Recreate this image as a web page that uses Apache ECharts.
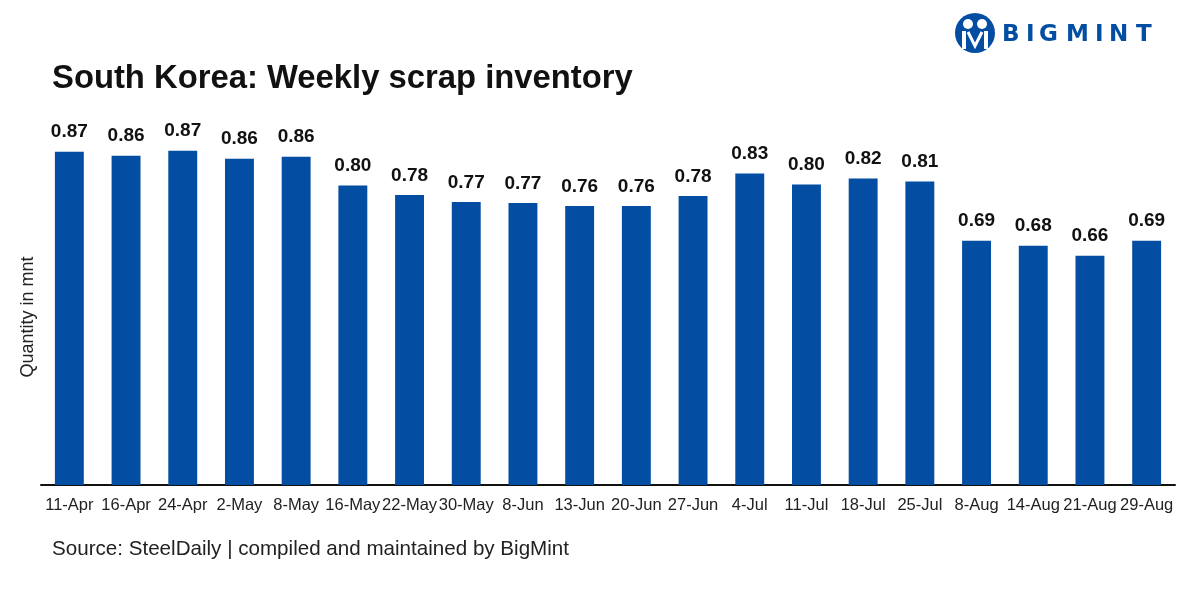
<!DOCTYPE html>
<html><head><meta charset="utf-8">
<script src="https://cdn.jsdelivr.net/npm/echarts@6/dist/echarts.min.js"></script>
<style>html,body{margin:0;padding:0;background:#fff}#c{width:1189px;height:595px}</style>
</head><body><div id="c"></div>
<script>
const categories = ['11-Apr','16-Apr','24-Apr','2-May','8-May','16-May','22-May','30-May','8-Jun','13-Jun','20-Jun','27-Jun','4-Jul','11-Jul','18-Jul','25-Jul','8-Aug','14-Aug','21-Aug','29-Aug'];
const inventory = [0.870,0.862,0.872,0.856,0.860,0.802,0.783,0.769,0.767,0.761,0.761,0.781,0.826,0.804,0.816,0.810,0.691,0.681,0.661,0.691];
const titleText = 'South Korea: Weekly scrap inventory';
const yAxisName = 'Quantity in mnt';
const sourceText = 'Source: SteelDaily | compiled and maintained by BigMint';
const logoLetters = ['B','I','G','M','I','N','T'];

const blue = '#034ea2';
const chart = echarts.init(document.getElementById('c'));
const letterX = [1002, 1026, 1039, 1066, 1095, 1109, 1136];
const logoGraphics = logoLetters.map((ch, i) => ({
  type: 'text', x: letterX[i], y: 24,
  style: { text: ch, fill: blue, font: 'bold 23px "DejaVu Sans", Arial' }
}));
chart.setOption({
  animation: false,
  title: {
    text: titleText, left: 52, top: 62, padding: 0,
    textStyle: { fontFamily: '"Liberation Sans", Arial', fontWeight: 'bold', fontSize: 32.8, color: '#111' }
  },
  grid: { left: 41, right: 14, top: 87, bottom: 110 },
  xAxis: {
    type: 'category', data: categories,
    axisLine: { lineStyle: { color: '#111', width: 2 } },
    axisTick: { show: false },
    axisLabel: { interval: 0, color: '#222', fontSize: 16.5, fontFamily: '"Liberation Sans", Arial', margin: 12 }
  },
  yAxis: {
    type: 'value', min: 0.2, max: 1.0,
    axisLine: { show: false }, axisTick: { show: false }, axisLabel: { show: false }, splitLine: { show: false }
  },
  series: [{
    type: 'bar', data: inventory, barWidth: '51%',
    itemStyle: { color: blue },
    label: {
      show: true, position: 'top', distance: 10,
      formatter: p => p.value.toFixed(2),
      color: '#111', fontWeight: 'bold', fontSize: 19, fontFamily: '"Liberation Sans", Arial'
    }
  }],
  graphic: [
    { type: 'text', x: 52, y: 539, style: { text: sourceText, fill: '#222', font: '20.6px "Liberation Sans", Arial' } },
    { type: 'text', x: 28, y: 317, rotation: Math.PI / 2,
      style: { text: yAxisName, fill: '#222', font: '18px "Liberation Sans", Arial', align: 'center', verticalAlign: 'middle' } },
    { type: 'circle', shape: { cx: 975, cy: 33, r: 20 }, style: { fill: blue } },
    { type: 'circle', shape: { cx: 968, cy: 24, r: 5 }, style: { fill: '#fff' } },
    { type: 'circle', shape: { cx: 982, cy: 24, r: 5 }, style: { fill: '#fff' } },
    { type: 'rect', shape: { x: 962, y: 31, width: 4, height: 18 }, style: { fill: '#fff' } },
    { type: 'rect', shape: { x: 984, y: 31, width: 4, height: 18 }, style: { fill: '#fff' } },
    { type: 'polyline', shape: { points: [[968,32],[975,46],[982,32]] }, style: { stroke: '#fff', lineWidth: 3, fill: null } }
  ].concat(logoGraphics)
});
</script></body></html>
